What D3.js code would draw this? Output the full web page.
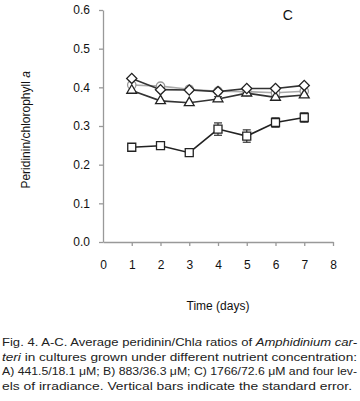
<!DOCTYPE html>
<html>
<head>
<meta charset="UTF-8">
<script src="https://d3js.org/d3.v7.min.js"></script>
<style>
  body { margin: 0; background: #fff; }
  svg { display: block; font-family: "Liberation Sans", Arial, sans-serif; }
</style>
</head>
<body>
<div id="chart"></div>
<script>
// data
const days = [1, 2, 3, 4, 5, 6, 7];
const diamond  = [0.423, 0.394, 0.393, 0.389, 0.397, 0.397, 0.405];
const circle   = [0.406, 0.403, 0.395, 0.390, 0.389, 0.386, 0.390];
const triangle = [0.392, 0.365, 0.360, 0.370, 0.385, 0.374, 0.380];
const square   = [0.245, 0.249, 0.231, 0.292, 0.274, 0.309, 0.322];
const squareErr = [0.004, 0.004, 0.003, 0.016, 0.016, 0.012, 0.012];
const triangleErr = [0, 0, 0, 0.006, 0, 0.005, 0];
const xTicks = [0, 1, 2, 3, 4, 5, 6, 7, 8];
const yTicks = [0, 0.1, 0.2, 0.3, 0.4, 0.5, 0.6];

const W = 360, H = 401;
const margin = {top: 10, left: 103, right: 27, bottom: 159};
const width = W - margin.left - margin.right,
      height = H - margin.top - margin.bottom;

const svg = d3.select("#chart").append("svg")
  .attr("width", W).attr("height", H);
const g = svg.append("g").attr("transform", `translate(${margin.left},${margin.top})`);

const x = d3.scaleLinear().domain([0, 8]).range([0, width]);
const y = d3.scaleLinear().domain([0, 0.6]).range([height, 0]);

// axes
const yAxis = g.append("g")
  .call(d3.axisLeft(y).tickValues(yTicks).tickFormat(d3.format(".1f")).tickSize(4).tickSizeOuter(0).tickPadding(9));
const xAxis = g.append("g")
  .attr("transform", `translate(0,${height})`)
  .call(d3.axisBottom(x).tickValues(xTicks).tickSize(4).tickSizeOuter(0).tickPadding(14));
[xAxis, yAxis].forEach(a => {
  a.selectAll("path, line").attr("stroke", "#999").attr("stroke-width", 1.3);
  a.selectAll("text").style("font-size", "12px").attr("fill", "#111");
});
xAxis.select(".tick line").remove();

// series
const line = vals => d3.line().x((d, i) => x(days[i])).y(d => y(d))(vals);

const series = [
  {vals: circle,   stroke: "#aaa", shape: "circle"},
  {vals: triangle, stroke: "#333", shape: "triangle"},
  {vals: diamond,  stroke: "#333", shape: "diamond"},
  {vals: square,   stroke: "#222", shape: "square"}
];

series.forEach(s => {
  g.append("path").attr("d", line(s.vals))
    .attr("fill", "none").attr("stroke", s.stroke).attr("stroke-width", 1.6);
});

// error bars
function errBars(vals, errs, col) {
  const eg = g.append("g").attr("stroke", col).attr("stroke-width", 1.2);
  vals.forEach((v, i) => {
    if (!errs[i]) return;
    const cx = x(days[i]);
    eg.append("line").attr("x1", cx).attr("x2", cx).attr("y1", y(v - errs[i])).attr("y2", y(v + errs[i]));
    [v - errs[i], v + errs[i]].forEach(e =>
      eg.append("line").attr("x1", cx - 4).attr("x2", cx + 4).attr("y1", y(e)).attr("y2", y(e)));
  });
}
errBars(square, squareErr, "#333");
errBars(triangle, triangleErr, "#555");

// diamond = square turned 45 degrees
const symbols = {
  circle: d3.symbol().type(d3.symbolCircle).size(55),
  triangle: d3.symbol().type(d3.symbolTriangle).size(42),
  diamond: d3.symbol().type(d3.symbolSquare).size(52),
  square: d3.symbol().type(d3.symbolSquare).size(64)
};

series.forEach(s => {
  g.selectAll(null).data(s.vals).enter().append("path")
    .attr("d", symbols[s.shape]())
    .attr("transform", (d, i) => `translate(${x(days[i])},${y(d)})` + (s.shape === "diamond" ? " rotate(45)" : ""))
    .attr("fill", "#fff")
    .attr("stroke", s.shape === "circle" ? "#999" : "#222")
    .attr("stroke-width", 1.3);
});

// panel letter
g.append("text").attr("x", x(6.25)).attr("y", y(0.575))
  .style("font-size", "14px").attr("fill", "#111").text("C");

// axis titles
svg.append("text")
  .attr("transform", `translate(30,${margin.top + y(0.29)}) rotate(-90)`)
  .attr("text-anchor", "middle").style("font-size", "12px").attr("fill", "#111")
  .html('Peridinin/chlorophyll <tspan font-style="italic">a</tspan>');

svg.append("text")
  .attr("x", margin.left + x(4)).attr("y", 310)
  .attr("text-anchor", "middle").style("font-size", "12px").attr("fill", "#111")
  .text("Time (days)");

// caption
const caption = [
  {html: 'Fig. 4. A-C. Average peridinin/Chl<tspan font-style="italic">a</tspan> ratios of <tspan font-style="italic">Amphidinium car-</tspan>', len: 355},
  {html: '<tspan font-style="italic">teri</tspan> in cultures grown under different nutrient concentration:', len: 355},
  {html: 'A) 441.5/18.1 μM; B) 883/36.3 μM; C) 1766/72.6 μM and four lev-', len: 355},
  {html: 'els of irradiance. Vertical bars indicate the standard error.', len: 350}
];
caption.forEach((c, i) => {
  svg.append("text")
    .attr("x", 2).attr("y", 346 + i * 14.5)
    .style("font-size", "11.5px").attr("fill", "#222")
    .attr("textLength", c.len).attr("lengthAdjust", "spacingAndGlyphs")
    .html(c.html);
});
</script>
</body>
</html>
